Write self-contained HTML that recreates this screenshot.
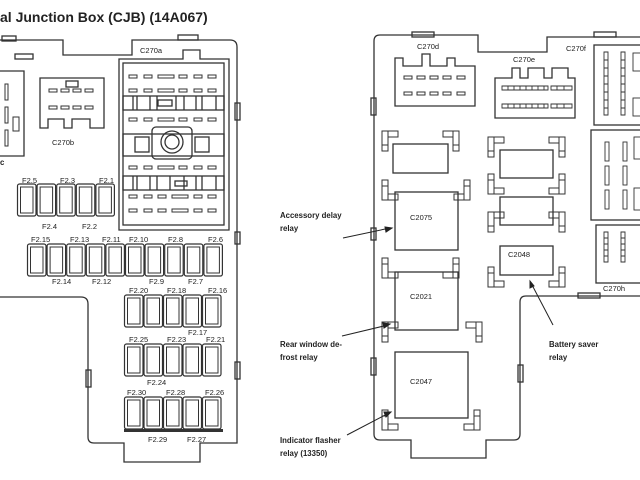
<!DOCTYPE html>
<html><head><style>
html,body{margin:0;padding:0;background:#fff;}
svg{display:block;}
text{font-family:"Liberation Sans",sans-serif;fill:#222;}
.t{font-size:7.5px;}
.b{font-size:7.8px;font-weight:bold;}
</style></head><body>
<svg width="640" height="480" viewBox="0 0 640 480" xmlns="http://www.w3.org/2000/svg">
<defs>
<g id="fz"><rect x="0.5" y="0" width="18.5" height="32" rx="2" fill="none" stroke="#333" stroke-width="1.2"/><rect x="3.5" y="3" width="12.5" height="26" fill="none" stroke="#333" stroke-width="1"/></g>
<g id="pin"><rect x="0" y="0" width="8" height="3" fill="none" stroke="#333" stroke-width="1"/></g>
<path id="tl" d="M0 0h16v6h-10v14h-6zM6 0v6M0 14h6" fill="none" stroke="#333" stroke-width="1"/>
<path id="tr" d="M0 0h-16v6h10v14h6zM-6 0v6M0 14h-6" fill="none" stroke="#333" stroke-width="1"/>
<path id="bl" d="M0 0h16v-6h-10v-14h-6zM6 0v-6M0 -14h6" fill="none" stroke="#333" stroke-width="1"/>
<path id="brr" d="M0 0h-16v-6h10v-14h6zM-6 0v-6M0 -14h-6" fill="none" stroke="#333" stroke-width="1"/>
</defs>
<g fill="none" stroke="#333" stroke-width="1.3">
<path d="M0 40H63V55H132V40H230Q237 40 237 47V443H200V462H124V443H94Q88 443 88 437V304Q88 297 81 297H0"/>
<rect x="2" y="36" width="14" height="5"/><rect x="178" y="35" width="20" height="5"/>
<rect x="15" y="54" width="18" height="5"/>
<rect x="235" y="103" width="5" height="17"/><rect x="235" y="232" width="5" height="12"/><rect x="235" y="362" width="5" height="17"/>
<rect x="86" y="370" width="5" height="17"/>
<path d="M0 71H24V156H0"/>
<path d="M40 78H104V128H90V119H72V128H64V119H48V128H40Z"/>
<rect x="66" y="81" width="12" height="6"/>
<path d="M119 59H183V50H200V59H229V230H119Z"/>
<rect x="123" y="63" width="101" height="162"/>
<rect x="123" y="96" width="101" height="14"/>
<rect x="123" y="134" width="101" height="22"/>
<rect x="123" y="176" width="101" height="14"/>
<rect x="152" y="127" width="40" height="32" rx="4"/>
<circle cx="172" cy="142" r="11"/><circle cx="172" cy="142" r="7"/>
<path d="M133 96v14M137 96v14M150 96v14M157 96v14M176 96v14M184 96v14M196 96v14M202 96v14M216 96v14"/>
<rect x="158" y="100" width="14" height="6"/>
<path d="M133 176v14M137 176v14M150 176v14M157 176v14M170 176v14M184 176v14M196 176v14M202 176v14M216 176v14"/>
<rect x="175" y="181" width="12" height="5"/>
<rect x="135" y="137" width="14" height="15"/><rect x="195" y="137" width="14" height="15"/>
<path d="M374 41Q374 35 380 35H478V52H547V37H640"/>
<path d="M374 41V434Q374 440 380 440H411V458H486V440H514Q520 440 520 434V302Q520 296 526 296H640"/>
<rect x="412" y="32" width="22" height="5"/><rect x="594" y="32" width="22" height="5"/><rect x="578" y="293" width="22" height="5"/>
<rect x="371" y="98" width="5" height="17"/><rect x="371" y="358" width="5" height="17"/><rect x="518" y="365" width="5" height="17"/><rect x="371" y="228" width="5" height="12"/>
<path d="M395 106V58H403V66H422V54H430V66H447V58H455V66H475V106Z"/>
<path d="M495 118V78H512V68H520V78H528V68H544V78H552V68H568V78H575V118Z"/>
<rect x="594" y="45" width="50" height="80"/>
<rect x="591" y="130" width="53" height="90"/>
<rect x="596" y="225" width="48" height="58"/>
<rect x="393" y="144" width="55" height="29"/>
<rect x="395" y="192" width="63" height="58"/>
<rect x="395" y="272" width="63" height="58"/>
<rect x="395" y="352" width="73" height="66"/>
<rect x="500" y="150" width="53" height="28"/>
<rect x="500" y="197" width="53" height="28"/>
<rect x="500" y="246" width="53" height="29"/>
</g>
<use href="#tl" x="382" y="131"/><use href="#tr" x="459" y="131"/>
<use href="#bl" x="382" y="200"/><use href="#brr" x="470" y="200"/>
<use href="#bl" x="382" y="278"/><use href="#brr" x="459" y="278"/>
<use href="#tl" x="382" y="322"/><use href="#tr" x="482" y="322"/>
<use href="#bl" x="382" y="430"/><use href="#brr" x="480" y="430"/>
<use href="#tl" x="488" y="137"/><use href="#tr" x="565" y="137"/>
<use href="#bl" x="488" y="194"/><use href="#brr" x="565" y="194"/>
<use href="#tl" x="488" y="212"/><use href="#tr" x="565" y="212"/>
<use href="#bl" x="488" y="287"/><use href="#brr" x="565" y="287"/>
<use href="#fz" x="17" y="184"/><use href="#fz" x="36.6" y="184"/><use href="#fz" x="56.2" y="184"/><use href="#fz" x="75.8" y="184"/><use href="#fz" x="95.4" y="184"/>
<use href="#fz" x="27" y="244"/><use href="#fz" x="46.6" y="244"/><use href="#fz" x="66.2" y="244"/><use href="#fz" x="85.8" y="244"/><use href="#fz" x="105.4" y="244"/><use href="#fz" x="125" y="244"/><use href="#fz" x="144.6" y="244"/><use href="#fz" x="164.2" y="244"/><use href="#fz" x="183.8" y="244"/><use href="#fz" x="203.4" y="244"/>
<use href="#fz" x="124" y="295"/><use href="#fz" x="143.5" y="295"/><use href="#fz" x="163" y="295"/><use href="#fz" x="182.5" y="295"/><use href="#fz" x="202" y="295"/>
<use href="#fz" x="124" y="344"/><use href="#fz" x="143.5" y="344"/><use href="#fz" x="163" y="344"/><use href="#fz" x="182.5" y="344"/><use href="#fz" x="202" y="344"/>
<use href="#fz" x="124" y="397"/><use href="#fz" x="143.5" y="397"/><use href="#fz" x="163" y="397"/><use href="#fz" x="182.5" y="397"/><use href="#fz" x="202" y="397"/>
<rect x="124" y="429" width="99" height="3" fill="#333"/>
<g>
<use href="#pin" x="129" y="75"/><use href="#pin" x="144" y="75"/><use href="#pin" x="179" y="75"/><use href="#pin" x="194" y="75"/><use href="#pin" x="208" y="75"/><rect x="158" y="75" width="16" height="3" fill="none" stroke="#333"/>
<use href="#pin" x="129" y="89"/><use href="#pin" x="144" y="89"/><use href="#pin" x="179" y="89"/><use href="#pin" x="194" y="89"/><use href="#pin" x="208" y="89"/><rect x="158" y="89" width="16" height="3" fill="none" stroke="#333"/>
<use href="#pin" x="129" y="118"/><use href="#pin" x="144" y="118"/><use href="#pin" x="179" y="118"/><use href="#pin" x="194" y="118"/><use href="#pin" x="208" y="118"/><rect x="158" y="118" width="16" height="3" fill="none" stroke="#333"/>
<use href="#pin" x="129" y="166"/><use href="#pin" x="144" y="166"/><use href="#pin" x="179" y="166"/><use href="#pin" x="194" y="166"/><use href="#pin" x="208" y="166"/><rect x="158" y="166" width="16" height="3" fill="none" stroke="#333"/>
<use href="#pin" x="129" y="195"/><use href="#pin" x="144" y="195"/><use href="#pin" x="158" y="195"/><use href="#pin" x="194" y="195"/><use href="#pin" x="208" y="195"/><rect x="172" y="195" width="16" height="3" fill="none" stroke="#333"/>
<use href="#pin" x="129" y="209"/><use href="#pin" x="144" y="209"/><use href="#pin" x="158" y="209"/><use href="#pin" x="194" y="209"/><use href="#pin" x="208" y="209"/><rect x="172" y="209" width="16" height="3" fill="none" stroke="#333"/>
<use href="#pin" x="49" y="89"/><use href="#pin" x="61" y="89"/><use href="#pin" x="73" y="89"/><use href="#pin" x="85" y="89"/>
<use href="#pin" x="49" y="106"/><use href="#pin" x="61" y="106"/><use href="#pin" x="73" y="106"/><use href="#pin" x="85" y="106"/>
<rect x="5" y="84" width="3" height="16" fill="none" stroke="#333"/><rect x="5" y="107" width="3" height="16" fill="none" stroke="#333"/><rect x="5" y="130" width="3" height="16" fill="none" stroke="#333"/><rect x="13" y="117" width="6" height="14" fill="none" stroke="#333"/>
<use href="#pin" x="404" y="76"/><use href="#pin" x="417" y="76"/><use href="#pin" x="430" y="76"/><use href="#pin" x="443" y="76"/><use href="#pin" x="457" y="76"/>
<use href="#pin" x="404" y="92"/><use href="#pin" x="417" y="92"/><use href="#pin" x="430" y="92"/><use href="#pin" x="443" y="92"/><use href="#pin" x="457" y="92"/>
</g>
<g fill="none" stroke="#333" stroke-width="0.9">
<path d="M502 86h46v4h-46zM551 86h21v4h-21zM502 104h46v4h-46zM551 104h21v4h-21z"/>
<path d="M508 86v4M514 86v4M520 86v4M526 86v4M532 86v4M538 86v4M544 86v4M557 86v4M564 86v4M508 104v4M514 104v4M520 104v4M526 104v4M532 104v4M538 104v4M544 104v4M557 104v4M564 104v4"/>
<path d="M604 52v63h4v-63zM621 52v63h4v-63zM604 60h4M604 68h4M604 76h4M604 84h4M604 92h4M604 100h4M604 108h4M621 60h4M621 68h4M621 76h4M621 84h4M621 92h4M621 100h4M621 108h4"/>
<rect x="633" y="53" width="8" height="18"/><rect x="633" y="98" width="8" height="18"/>
<rect x="605" y="142" width="4" height="19"/><rect x="623" y="142" width="4" height="19"/><rect x="605" y="166" width="4" height="19"/><rect x="623" y="166" width="4" height="19"/><rect x="605" y="190" width="4" height="19"/><rect x="623" y="190" width="4" height="19"/>
<rect x="634" y="137" width="8" height="22"/><rect x="634" y="188" width="8" height="22"/>
<path d="M604 232v30h4v-30zM621 232v30h4v-30zM604 238h4M604 244h4M604 250h4M604 256h4M621 238h4M621 244h4M621 250h4M621 256h4"/>
</g>
<g stroke="#222" stroke-width="1" fill="#222">
<path d="M343 238L390 228"/><path d="M392 228l-7 -1l1 5z"/>
<path d="M342 336L388 325"/><path d="M390 324l-7 -1l1 5z"/>
<path d="M347 435L389 413"/><path d="M391 412l-7 0l2 5z"/>
<path d="M553 325L531 283"/><path d="M530 281l0 7l4 -2z"/>
</g>
<text x="0" y="22" style="font-size:14px;font-weight:bold">al Junction Box (CJB) (14A067)</text>
<g class="t">
<text x="140" y="53">C270a</text><text x="52" y="145">C270b</text><text x="0" y="165" class="b">c</text>
<text x="417" y="49">C270d</text><text x="513" y="62">C270e</text><text x="566" y="51">C270f</text><text x="603" y="291">C270h</text>
<text x="410" y="220">C2075</text><text x="410" y="299">C2021</text><text x="410" y="384">C2047</text><text x="508" y="257">C2048</text>
<text x="22" y="183">F2.5</text><text x="60" y="183">F2.3</text><text x="99" y="183">F2.1</text>
<text x="42" y="229">F2.4</text><text x="82" y="229">F2.2</text>
<text x="31" y="242">F2.15</text><text x="70" y="242">F2.13</text><text x="102" y="242">F2.11</text><text x="129" y="242">F2.10</text><text x="168" y="242">F2.8</text><text x="208" y="242">F2.6</text>
<text x="52" y="284">F2.14</text><text x="92" y="284">F2.12</text><text x="149" y="284">F2.9</text><text x="188" y="284">F2.7</text>
<text x="129" y="293">F2.20</text><text x="167" y="293">F2.18</text><text x="208" y="293">F2.16</text>
<text x="188" y="335">F2.17</text>
<text x="129" y="342">F2.25</text><text x="167" y="342">F2.23</text><text x="206" y="342">F2.21</text>
<text x="147" y="385">F2.24</text>
<text x="127" y="395">F2.30</text><text x="166" y="395">F2.28</text><text x="205" y="395">F2.26</text>
<text x="148" y="442">F2.29</text><text x="187" y="442">F2.27</text>
</g>
<g class="b">
<text x="280" y="218">Accessory delay</text><text x="280" y="231">relay</text>
<text x="280" y="347">Rear window de-</text><text x="280" y="360">frost relay</text>
<text x="280" y="443">Indicator flasher</text><text x="280" y="456">relay (13350)</text>
<text x="549" y="347">Battery saver</text><text x="549" y="360">relay</text>
</g>
</svg>
</body></html>
